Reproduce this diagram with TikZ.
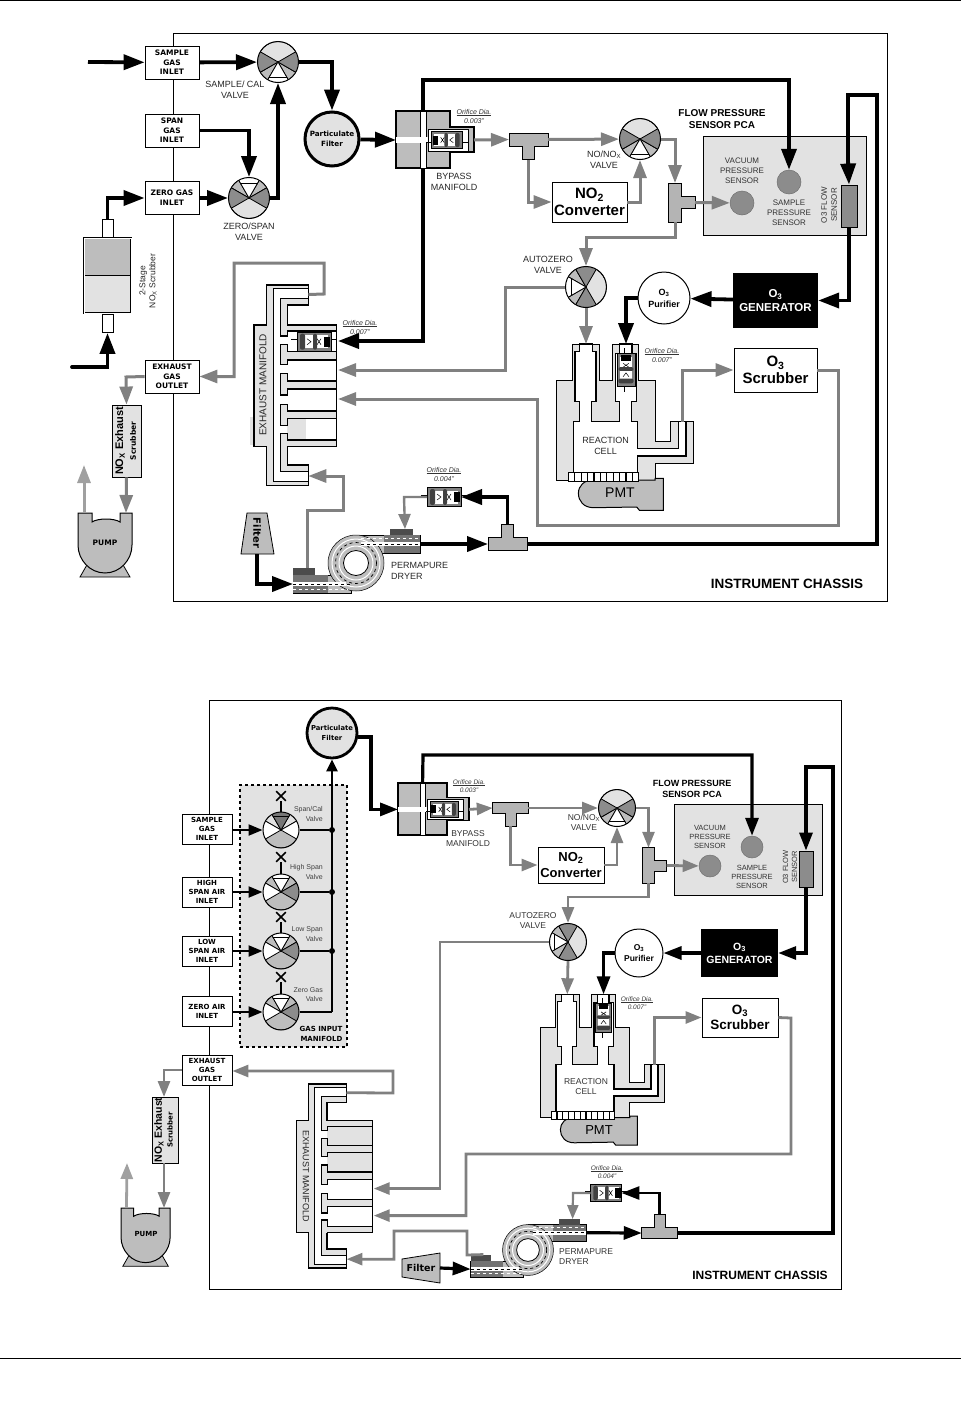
\documentclass[tikz,border=0pt]{standalone}
\usepackage{fontspec}
\setmainfont{Liberation Sans}
\newfontfamily\boxfont{DejaVu Sans}
\usetikzlibrary{arrows.meta,shapes.misc}

\definecolor{vdark}{HTML}{8C8C8C}
\definecolor{vmid}{HTML}{BDBDBD}
\definecolor{vlite}{HTML}{E2E2E2}
\definecolor{gline}{HTML}{808080}

% name, position, radius, rotation, wedge colours (left, right, port), big sector, small sectors
\newcommand{\valve}[9]{
  \begin{scope}[shift={(#2)},rotate=#4,scale=#3/20]
    \clip (0,0) circle (20);
    \filldraw[fill=#8,line width=.8pt] (0,0) circle (20);
    \filldraw[fill=#9,line width=.8pt] (0,0) -- (30:40) -- (60:40) -- cycle;
    \filldraw[fill=#9,line width=.8pt] (0,0) -- (120:40) -- (150:40) -- cycle;
    \filldraw[fill=#5,line width=.8pt] (0,0) -- (150:40) -- (210:40) -- cycle;
    \filldraw[fill=#6,line width=.8pt] (0,0) -- (-30:40) -- (30:40) -- cycle;
    \filldraw[fill=#7,line width=.8pt] (0,0) -- (60:40) -- (120:40) -- cycle;
    \draw[line width=.8pt] (60:17) -- (120:17);
  \end{scope}
  \node[draw,circle,line width=1pt,inner sep=0,minimum size=2*#3] (#1) at (#2) {};
}

% name, position, rotation, scale
\newcommand{\orifice}[4]{
  \begin{scope}[shift={(#2)},rotate=#3,scale=#4]
    \draw[line width=.6pt] (-23,-2) -- (23,-2);
    \filldraw[fill=gray,line width=.8pt] (-17,-9.5) rectangle (17,9.5);
    \fill[white] (-13,-6.5) rectangle (14,6.5);
    \draw[line width=.5pt] (-7,-3) -- (-3,0) -- (-7,3) (3,-3) -- (7,3) (3,3) -- (7,-3);
    \fill[black!75,rounded corners=2pt] (-14,-8) rectangle (-9,8);
    \fill[black!75,rounded corners=2pt] (-1,-8) rectangle (3,8);
    \fill[black] (10,-5) rectangle (16,5);
    \coordinate (#1-w) at (-17,0);
    \coordinate (#1-e) at (17,0);
  \end{scope}
}

% name, position, rotation, scale
\newcommand{\teepc}[4]{
  \begin{scope}[shift={(#2)},rotate=#3,scale=#4]
    \filldraw[fill=vmid!95!black,line width=.9pt] (-19.5,-6.5) -- (19.5,-6.5) -- (19.5,6.5) -- (6,6.5)
      -- (6,20) -- (-6,20) -- (-6,6.5) -- (-19.5,6.5) -- cycle;
    \coordinate (#1-w) at (-19.5,0);
    \coordinate (#1-e) at (19.5,0);
    \coordinate (#1-s) at (0,20);
  \end{scope}
}

% name, position, scale
\newcommand{\bypass}[3]{
  \begin{scope}[shift={(#2)},scale=#3]
    \filldraw[fill=vmid,line width=1.3pt] (0,0) -- (54,0) -- (54,16) -- (78,16) -- (78,41) -- (54,41) -- (54,57) -- (0,57) -- cycle;
    \filldraw[fill=white,line width=.5pt] (24,0) rectangle (30,57);
    \fill[white] (0,26) rectangle (33,32);
    \filldraw[fill=white,line width=.8pt] (32,18) rectangle (72,40);
    \orifice{#1o}{51,29}{180}{.9}
    \coordinate (#1-top) at (27,0);
    \coordinate (#1-bot) at (27,57);
    \coordinate (#1-w) at (0,29);
    \coordinate (#1-e) at (78,29);
  \end{scope}
}

% name, position, scale, fill of upper bays, patch
\newcommand{\manifoldbody}[5]{
  \begin{scope}[shift={(#2)},scale=#3]
    \filldraw[fill=vlite,line width=1.5pt] (12.7,0) -- (54.3,0) -- (54.3,20) -- (33.3,20) -- (33.3,40) -- (82.7,40)
      -- (82.7,161.7) -- (33.3,161.7) -- (33.3,180) -- (54.3,180) -- (54.3,200.7) -- (12.7,200.7)
      -- (12.7,161.7) -- (0,161.7) -- (0,40) -- (12.7,40) -- cycle;
    \filldraw[fill=white,line width=1pt] (19.3,3.3) -- (54.3,3.3) -- (54.3,13.3) -- (26.7,13.3) -- (26.7,46) -- (82.7,46)
      -- (82.7,155) -- (26.7,155) -- (26.7,186.7) -- (54.3,186.7) -- (54.3,196.7) -- (19.3,196.7) -- cycle;
    \fill[#4] (33.3,46) rectangle (82.7,66.7);
    \fill[#4] (33.3,75) rectangle (82.7,96);
    \fill[#5] (33.3,133.3) rectangle (52,155);
    \fill[vlite] (26.7,40) rectangle (33.3,51);
    \fill[vlite] (26.7,148.3) rectangle (33.3,162);
    \draw[line width=1.2pt] (26.7,13.3) -- (26.7,51) -- (33.3,51) -- (33.3,46) -- (82.7,46);
    \foreach \ya/\yb/\yc/\yd in {59.3/79.3/66.7/75, 88.3/110/96/104, 119.3/140.7/126/133.3}
      \filldraw[fill=vlite,line width=1.2pt] (82.7,\yc) -- (33.3,\yc) -- (33.3,\ya) -- (26.7,\ya) -- (26.7,\yb)
        -- (33.3,\yb) -- (33.3,\yd) -- (82.7,\yd);
    \draw[line width=1.2pt] (82.7,155) -- (33.3,155) -- (33.3,148.3) -- (26.7,148.3) -- (26.7,186.7);
    \draw[line width=1.5pt] (82.7,40) -- (82.7,161.7);
    \coordinate (#1-top) at (54.3,9.5);
    \coordinate (#1-bot) at (54.3,191);
    \coordinate (#1-pa) at (84,56);
    \coordinate (#1-pb) at (84,85);
    \coordinate (#1-pc) at (84,114);
    \coordinate (#1-pd) at (84,143.5);
  \end{scope}
}

% name, position, scale
\newcommand{\cellbody}[3]{
  \begin{scope}[shift={(#2)},scale=#3]
    \filldraw[fill=vlite,line width=1pt] (16,0) -- (42.7,0) -- (42.7,36.7) -- (56,36.7) -- (56,0) -- (82,0) -- (82,36.7) -- (98.3,36.7)
      -- (98.3,97.7) -- (114,97.7) -- (114,77.7) -- (136.7,77.7) -- (136.7,119.3) -- (98.3,119.3) -- (98.3,136) -- (0,136) -- (0,36.7) -- (16,36.7) -- cycle;
    \filldraw[fill=white,line width=1.3pt] (16.7,129.3) -- (16.7,77.7) -- (22.7,77.7) -- (22.7,57.7) -- (18.3,57.7) -- (18.3,7.7) -- (22.7,7.7) -- (22.7,0)
      -- (36,0) -- (36,7.7) -- (39.3,7.7) -- (39.3,57.7) -- (34.7,57.7) -- (34.7,77.7) -- (62.7,77.7) -- (62.7,57.7) -- (58.7,57.7) -- (58.7,9.3) -- (62.7,9.3) -- (62.7,0)
      -- (75.3,0) -- (75.3,9.3) -- (80,9.3) -- (80,57.7) -- (75,57.7) -- (75,77.7) -- (80.7,77.7) -- (80.7,104.3) -- (121.7,104.3) -- (121.7,77.7)
      -- (129.3,77.7) -- (129.3,112) -- (80.7,112) -- (80.7,129.3) -- cycle;
    \orifice{#1o}{69.3,26}{90}{.95}
    \filldraw[fill=vmid,line width=1pt] (98.3,134.3) -- (106.7,134.3) -- (106.7,166.3) -- (82.7,166.3) -- (80,163) -- (37,163.7)
      .. controls (27,163.7) and (21.7,157) .. (21.7,149.3) .. controls (21.7,142) and (27,136) .. (37,136) -- (98.3,136) -- cycle;
    \filldraw[fill=white,line width=.8pt] (11.7,128.7) rectangle (81.7,137.7);
    \foreach \xs in {18,24.4,...,76} \draw[line width=1.2pt] (\xs,128.7) -- (\xs,137.7);
    \coordinate (#1-ina) at (29.3,0);
    \coordinate (#1-inb) at (69.3,0);
    \coordinate (#1-out) at (125.5,77.7);
  \end{scope}
}

% name, position, scale
\newcommand{\pumpbody}[3]{
  \begin{scope}[shift={(#2)},scale=#3]
    \filldraw[fill=vmid,line width=.8pt] (2,64) -- (52,64) -- (44,50) -- (10,50) -- cycle;
    \filldraw[fill=vmid,line width=1pt] (0,0) -- (14,0) -- (14,9) .. controls (20,5) and (36,5) .. (42,9) -- (42,0) -- (54,0) -- (54,32)
      .. controls (54,47) and (42,60) .. (27,60) .. controls (12,60) and (0,47) .. (0,32) -- cycle;
    \coordinate (#1-in) at (48,0);
    \coordinate (#1-out) at (6,0);
  \end{scope}
}

% name, position, scale
\newcommand{\dryer}[3]{
  \begin{scope}[shift={(#2)},scale=#3]
    \filldraw[fill=vmid,line width=.5pt] (-63,12) rectangle (-5,30);
    \filldraw[fill=vmid,line width=.5pt] (0,-28) rectangle (64,-10);
    \filldraw[fill=vmid,line width=.5pt] (0,0) circle (28);
    \draw[white,line width=1pt] (0,0) circle (24);
    \draw[white,line width=1pt] (0,0) circle (17);
    \draw[dashed,line width=.7pt] (0,0) circle (20.5);
    \filldraw[fill=white,line width=.8pt] (0,0) circle (12.5);
    \fill[black!55] (-63,12) rectangle (-28,30);
    \fill[black!70] (-63,5) rectangle (-41,12);
    \fill[black!55] (28,-28) rectangle (64,-10);
    \fill[black!70] (34,-34) rectangle (57,-28);
    \fill[white] (-63,19) rectangle (-10,23);
    \fill[white] (5,-21) rectangle (64,-17);
    \draw[white,dashed,line width=.8pt] (-63,26) -- (-8,26);
    \draw[white,dashed,line width=.8pt] (5,-25) -- (64,-25);
    \draw[dashed,line width=.6pt] (-63,21) -- (-5,21);
    \draw[dashed,line width=.6pt] (5,-19) -- (64,-19);
    \coordinate (#1-w) at (-63,21);
    \coordinate (#1-e) at (64,-19);
    \coordinate (#1-lo) at (-49,5);
    \coordinate (#1-hi) at (49,-34);
  \end{scope}
}

\begin{document}
\begin{tikzpicture}[x=1pt,y=-1pt,
    inletbox/.style={draw,fill=white,line width=.9pt,align=center,inner sep=0,minimum width=54,minimum height=33,
      font=\boxfont\bfseries\fontsize{7.5}{9.6}\selectfont},
    binletbox/.style={inletbox,minimum width=50,minimum height=30,font=\boxfont\bfseries\fontsize{7}{9}\selectfont},
    lbl/.style={align=center,inner sep=0,text=black!85,font=\fontsize{9}{10.8}\selectfont},
    slbl/.style={align=center,inner sep=0,text=black!80,font=\fontsize{8}{10}\selectfont},
    tinylbl/.style={align=right,anchor=east,inner sep=0,text=black!75,font=\fontsize{7}{9.5}\selectfont},
    orif/.style={align=center,inner sep=0,text=black!80,font=\itshape\fontsize{7}{9}\selectfont},
    title/.style={align=center,inner sep=0,font=\bfseries\fontsize{10}{12}\selectfont},
    chassis/.style={inner sep=0,font=\bfseries\fontsize{13.5}{15}\selectfont},
    whitebox/.style={draw,fill=white,line width=.9pt,align=center,inner sep=0,font=\bfseries\fontsize{15}{17}\selectfont},
    sensorpad/.style={draw,circle,fill=vdark,draw=vdark!80!black,inner sep=0,line width=.5pt},
    blk/.style={line width=3.8pt,-{Triangle[length=21pt,width=15pt]}},
    blkline/.style={line width=3.8pt},
    gry/.style={line width=3pt,gline,-{Triangle[length=18pt,width=13pt]}},
    bblk/.style={line width=3.2pt,-{Triangle[length=18pt,width=13pt]}},
    sblk/.style={line width=2.2pt,-{Triangle[length=14pt,width=11pt]}},
    bgry/.style={line width=2.8pt,gline,-{Triangle[length=16pt,width=12pt]}},
  ]
  \useasboundingbox (0,0) rectangle (961,1411);
  \draw[line width=1pt] (0,.5) -- (961,.5);
  \draw[line width=.6pt] (0,1358) -- (961,1358);

  \draw[line width=.9pt] (173.5,33.5) rectangle (887,601);
  \draw[line width=.9pt] (209,700) rectangle (841,1289);

  \node (si) [inletbox] at (172,62.5) {SAMPLE\\GAS\\INLET};
  \node (sp) [inletbox] at (172,130.5) {SPAN\\GAS\\INLET};
  \node (zg) [inletbox] at (172,198) {ZERO GAS\\INLET};
  \node (ex) [inletbox] at (172,376.5) {EXHAUST\\GAS\\OUTLET};

  \valve{sv}{278,62}{20.5}{0}{vdark}{vdark}{white}{vlite}{vmid}
  \valve{zs}{249,198}{20.5}{180}{vdark}{vdark}{white}{vlite}{vmid}
  \valve{nv}{640,139}{20.5}{0}{vdark}{vdark}{white}{vlite}{vmid}
  \valve{az}{586,287}{20.5}{-90}{vdark}{vdark}{white}{vlite}{vmid}

  \node (pf) [draw,circle,fill=vlite,line width=3pt,inner sep=0,minimum size=54,align=center,
              font=\boxfont\bfseries\fontsize{7.2}{10}\selectfont] at (332,139) {Particulate\\Filter};

  \bypass{bp}{396,111}{1}
  \teepc{ta}{528.5,139.5}{0}{1}
  \teepc{tb}{675,202.5}{90}{1}
  \teepc{tc}{507.5,544}{180}{1}

  \node (cv) [whitebox,minimum width=75,minimum height=40] at (589.5,202) {NO\textsubscript{2}\\Converter};
  \node (fp) [draw,fill=vlite,line width=.9pt,minimum width=163,minimum height=99,inner sep=0] at (784.5,185.5) {};
  \node (vs) [sensorpad,minimum size=24] at (742,203) {};
  \node (ss) [sensorpad,minimum size=24] at (789,182) {};
  \node (fs) [draw,fill=vdark,line width=.9pt,minimum width=16,minimum height=42,inner sep=0] at (849,206) {};
  \node (gn) [fill=black,text=white,align=center,inner sep=0,minimum width=85,minimum height=55,
              font=\bfseries\fontsize{11.5}{14}\selectfont] at (775.5,300.5) {O\textsubscript{3}\\GENERATOR};
  \node (pu) [draw,circle,fill=white,line width=1pt,inner sep=0,minimum size=52,align=center,
              font=\bfseries\fontsize{9}{12}\selectfont] at (664,298) {O\textsubscript{3}\\Purifier};
  \node (sc) [whitebox,minimum width=83,minimum height=44] at (775.5,370) {O\textsubscript{3}\\Scrubber};

  \cellbody{rc}{556.7,344}{1}
  \fill[vlite] (250,417) rectangle (254,445);
  \manifoldbody{em}{254,285}{1}{white}{vlite}
  \orifice{eo}{314,341.7}{0}{1}

  \orifice{oc}{444,497}{0}{1}
  \dryer{dr}{356,563}{1}
  \pumpbody{pm}{78,513}{1}

  \node (ns) [draw,fill=vlite,line width=.9pt,minimum width=29,minimum height=72,inner sep=0] at (126.5,441) {};
  \node (nsa) [rotate=90,inner sep=0,font=\bfseries\fontsize{11}{13}\selectfont] at (120,441) {NO\textsubscript{X} Exhaust};
  \node (nsb) [rotate=90,inner sep=0,font=\boxfont\bfseries\fontsize{7.5}{9}\selectfont] at (133,441) {Scrubber};
  \node (pt) [inner sep=0,font=\boxfont\bfseries\fontsize{7.5}{9}\selectfont] at (105,543) {PUMP};

  \node (tk) [draw,line width=.9pt,fill=white,minimum width=11,minimum height=18,inner sep=0] at (107.5,228) {};
  \node (tl) [draw,line width=.9pt,fill=white,minimum width=11,minimum height=18,inner sep=0] at (107.5,323.5) {};
  \node (sb) [draw,double,double distance=1pt,line width=.8pt,fill=vlite,minimum width=47,minimum height=75,inner sep=0] at (107.5,275.5) {};
  \fill[vmid] (85,239) rectangle (130,275);
  \draw[line width=.7pt] (85,275) -- (130,275);
  \node (sbl) [rotate=90,align=center,inner sep=0,text=black!85,font=\fontsize{8.5}{10}\selectfont] at (148,281) {2-Stage\\NO\textsubscript{X} Scrubber};

  \filldraw[fill=vmid,line width=.8pt] (247,513) -- (267,513) -- (274,554) -- (241,554) -- cycle;
  \node (ft) [rotate=-90,inner sep=0,font=\boxfont\bfseries\fontsize{10}{12}\selectfont] at (257,533) {Filter};
  \coordinate (fb) at (257,554);

  \coordinate (sin) at (88,62);
  \coordinate (scrin) at (72,367);
  \draw[blk] (sin) -- (si);
  \draw[blk] (si) -- (sv);
  \draw[blk] (sv.east) -| (pf.north);
  \draw[blk] (pf) -- (bp-w);
  \draw[blk] (sp.east) -| (zs.north);
  \draw[blk] (zg) -- (zs);
  \draw[blk] (zs.east) -| (sv.south);
  \draw[blk] (tk.north) |- (zg.west);
  \draw[blk,line cap=round] (scrin) -| (tl.south);
  \draw[blk] (bp-top) -- ++(0,-31) -| (ss.north);
  \draw[blk] (bp-bot) |- (em-pa);
  \draw[blkline] (tc-w) -- (877,544) -- (877,95) -- (848,95) -- (848,165);
  \draw[blk] (848,160) -- (fs.north);
  \draw[blk] (fs.south) |- (gn.east);
  \draw[blk] (gn) -- (pu);
  \draw[blk] (pu.west) -| (rc-inb);
  \draw[blk] (fb) |- (dr-w);
  \draw[blk] (dr-e) -- (tc-e);
  \draw[blk] (tc-s) |- (oc-e);

  \draw[gry] (bp-e) -- (ta-w);
  \draw[gry] (ta-e) -- (nv);
  \draw[gry] (ta-s) |- (cv.west);
  \draw[gry] (cv.east) -| (nv.south);
  \draw[gry] (nv.east) -| (tb-e);
  \draw[gry] (tb-s) -- (vs);
  \draw[gry] (tb-w) |- (586,237) -- (az.north);
  \draw[gry] (az.west) -- (505,287) |- (em-pb);
  \draw[gry] (az.south) -- (rc-ina);
  \draw[gry] (rc-out) |- (sc.west);
  \draw[gry] (sc.east) -- (838,370) -- (838,525) -- (537,525) |- (em-pc);
  \draw[gry] (em-top) -- (324,294) -- (324,263) -- (234,263) |- (ex.east);
  \draw[gry] (ex.west) -- (126,377) -- (ns.north);
  \draw[gry] (ns.south) -- (pm-in);
  \draw[gry,draw=gline!75] (pm-out) -- (84,465);
  \draw[gry] (dr-lo) -- (307,510) -- (343,510) |- (em-bot);
  \draw[gry,line width=2.4pt,-{Triangle[length=15pt,width=12pt]}] (oc-w) -- (404,497) -- (dr-hi);

  \node (l1) [lbl] at (235,90) {SAMPLE/ CAL\\VALVE};
  \node (l2) [lbl] at (249,232) {ZERO/SPAN\\VALVE};
  \node (l3) [lbl] at (454,182) {BYPASS\\MANIFOLD};
  \node (l4) [lbl] at (604,160) {NO/NO\textsubscript{X}\\VALVE};
  \node (l5) [lbl] at (548,265) {AUTOZERO\\VALVE};
  \node (l6) [lbl,anchor=west,align=left] at (391,571) {PERMAPURE\\DRYER};
  \node (l7) [slbl] at (742,171) {VACUUM\\PRESSURE\\SENSOR};
  \node (l8) [slbl] at (789,213) {SAMPLE\\PRESSURE\\SENSOR};
  \node (l9) [slbl,rotate=90] at (829,205) {O3 FLOW\\SENSOR};
  \node (l10) [title] at (722,119) {FLOW PRESSURE\\SENSOR PCA};
  \node (l11) [lbl] at (605.5,446) {REACTION\\CELL};
  \node (l12) [inner sep=0,font=\fontsize{14}{16}\selectfont] at (620,493) {PMT};
  \node (l13) [rotate=90,inner sep=0,text=black!85,font=\fontsize{10}{12}\selectfont] at (263,385) {EXHAUST MANIFOLD};
  \node (l14) [chassis] at (787,584) {INSTRUMENT CHASSIS};
  \node (o1) [orif] at (474,116) {\underline{Orifice Dia.}\\0.003"};
  \node (o2) [orif] at (360,327) {\underline{Orifice Dia.}\\0.007"};
  \node (o3) [orif] at (662,355) {\underline{Orifice Dia.}\\0.007"};
  \node (o4) [orif] at (444,474) {\underline{Orifice Dia.}\\0.004"};

  \node (gm) [draw,dashed,fill=vlite,line width=1.1pt,minimum width=107,minimum height=262,inner sep=0] at (293.5,916) {};

  \node (bsi) [binletbox] at (207,829) {SAMPLE\\GAS\\INLET};
  \node (bhi) [binletbox] at (207,892) {HIGH\\SPAN AIR\\INLET};
  \node (blo) [binletbox] at (207,951) {LOW\\SPAN AIR\\INLET};
  \node (bze) [binletbox] at (207,1011) {ZERO AIR\\INLET};
  \node (bex) [binletbox] at (207,1070) {EXHAUST\\GAS\\OUTLET};

  \valve{va}{281,830}{18}{180}{white}{white}{vdark!85!black}{vmid}{vlite}
  \valve{vb}{281,892}{18}{180}{vdark}{white}{white}{vmid}{vmid}
  \valve{vc}{281,951}{18}{180}{vdark}{white}{white}{vmid}{vmid}
  \valve{vd}{281,1012}{18}{180}{vdark}{white}{white}{vmid}{vmid}
  \node (xa) [draw,cross out,line width=1.6pt,inner sep=0,minimum size=8] at (281,796) {};
  \node (xb) [draw,cross out,line width=1.6pt,inner sep=0,minimum size=8] at (281,857) {};
  \node (xc) [draw,cross out,line width=1.6pt,inner sep=0,minimum size=8] at (281,917) {};
  \node (xd) [draw,cross out,line width=1.6pt,inner sep=0,minimum size=8] at (281,977) {};
  \node (ja) [circle,fill=black,inner sep=0,minimum size=6] at (332,830) {};
  \node (jb) [circle,fill=black,inner sep=0,minimum size=6] at (332,892) {};
  \node (jc) [circle,fill=black,inner sep=0,minimum size=6] at (332,951) {};
  \coordinate (jd) at (332,1012);

  \node (bpf) [draw,circle,fill=vlite,line width=2.8pt,inner sep=0,minimum size=50,align=center,
               font=\boxfont\bfseries\fontsize{6.8}{10}\selectfont] at (332,733) {Particulate\\Filter};

  \bypass{bb}{398,783}{.91}
  \teepc{bta}{510.5,808}{0}{.91}
  \teepc{btb}{648.5,865.5}{90}{.91}
  \teepc{btc}{659.5,1233}{180}{.91}
  \valve{bnv}{617,808}{18.5}{0}{vdark}{vdark}{white}{vlite}{vmid}
  \valve{baz}{568,942}{18.5}{-90}{vdark}{vdark}{white}{vlite}{vmid}

  \node (bcv) [whitebox,minimum width=66,minimum height=36,font=\bfseries\fontsize{13}{15.5}\selectfont] at (571,865) {NO\textsubscript{2}\\Converter};
  \node (bfp) [draw,fill=vlite,line width=.9pt,minimum width=148,minimum height=91,inner sep=0] at (748,849.5) {};
  \node (bvs) [sensorpad,minimum size=22] at (710,866) {};
  \node (bss) [sensorpad,minimum size=22] at (752,847) {};
  \node (bfs) [draw,fill=vdark,line width=.9pt,minimum width=14,minimum height=36,inner sep=0] at (806,869) {};
  \node (bgn) [fill=black,text=white,align=center,inner sep=0,minimum width=77,minimum height=48,
               font=\bfseries\fontsize{10.5}{13}\selectfont] at (739.5,953) {O\textsubscript{3}\\GENERATOR};
  \node (bpu) [draw,circle,fill=white,line width=1pt,inner sep=0,minimum size=48,align=center,
               font=\bfseries\fontsize{8.5}{11}\selectfont] at (639,953) {O\textsubscript{3}\\Purifier};
  \node (bsc) [whitebox,minimum width=76,minimum height=39,font=\bfseries\fontsize{13.5}{15.5}\selectfont] at (740,1017.5) {O\textsubscript{3}\\Scrubber};

  \cellbody{brc}{540.7,994.3}{.907}
  \manifoldbody{bem}{296.7,1084}{.917}{vlite}{white}
  \orifice{boc}{606,1193}{0}{.91}
  \dryer{bdr}{528,1250}{.91}
  \pumpbody{bpm}{121,1208}{.91}

  \node (bns) [draw,fill=vlite,line width=.9pt,minimum width=26,minimum height=66,inner sep=0] at (165,1130) {};
  \node (bnsa) [rotate=90,inner sep=0,font=\bfseries\fontsize{10.5}{12}\selectfont] at (159,1130) {NO\textsubscript{X} Exhaust};
  \node (bnsb) [rotate=90,inner sep=0,font=\boxfont\bfseries\fontsize{7}{9}\selectfont] at (170,1130) {Scrubber};
  \node (bpt) [inner sep=0,font=\boxfont\bfseries\fontsize{7}{9}\selectfont] at (146,1234) {PUMP};

  \filldraw[fill=vmid,line width=.8pt] (402,1259) -- (440,1253) -- (440,1283) -- (402,1277) -- cycle;
  \node (bft) [inner sep=0,font=\boxfont\bfseries\fontsize{9.5}{11}\selectfont] at (421,1268) {Filter};
  \coordinate (bfb) at (440,1268);

  \draw[line width=2.2pt] (va.north) -- (xa);
  \draw[line width=2.2pt] (vb.north) -- (xb);
  \draw[line width=2.2pt] (vc.north) -- (xc);
  \draw[line width=2.2pt] (vd.north) -- (xd);
  \draw[sblk] (bsi.east |- va) -- (va);
  \draw[sblk] (bhi.east |- vb) -- (vb);
  \draw[sblk] (blo.east |- vc) -- (vc);
  \draw[sblk] (bze.east |- vd) -- (vd);
  \draw[line width=1.8pt] (va) -- (ja);
  \draw[line width=2.2pt] (vb) -- (jb);
  \draw[line width=2.2pt] (vc) -- (jc);
  \draw[line width=2.2pt] (vd.east) -- (jd);
  \draw[line width=2.4pt,-{Triangle[length=12pt,width=11pt]}] (jd) -- (bpf.south);

  \draw[bblk] (bpf.east) ++(0,4) -- (371,737) |- (bb-w);
  \draw[bblk] (bb-top) -- (423,755) -| (bss.north);
  \draw[line width=3.4pt] (btc-w) -- (833,1233) -- (833,767) -- (806,767) -- (806,825);
  \draw[bblk] (806,820) -- (bfs.north);
  \draw[bblk] (bfs.south) |- (bgn.east);
  \draw[bblk] (bgn) -- (bpu);
  \draw[bblk] (bpu.west) -| (brc-inb);
  \draw[bblk] (bfb) -- (bdr-w);
  \draw[bblk] (bdr-e) -- (btc-e);
  \draw[bblk,line width=2.8pt] (btc-s) |- (boc-e);

  \draw[bgry] (bb-e) -- (bta-w);
  \draw[bgry] (bta-e) -- (bnv);
  \draw[bgry] (bta-s) |- (bcv.west);
  \draw[bgry] (bcv.east) -| (bnv.south);
  \draw[bgry] (bnv.east) -| (btb-e);
  \draw[bgry] (btb-s) -- (bvs);
  \draw[bgry] (btb-w) |- (568,897) -- (baz.north);
  \draw[bgry] (baz.west) -- (440,942) |- (bem-pc);
  \draw[bgry] (baz.south) -- (brc-ina);
  \draw[bgry] (brc-out) |- (bsc.west);
  \draw[bgry] (bsc.east) -- (791,1018) -- (791,1154) -- (466,1154) |- (bem-pd);
  \draw[bgry] (bem-top) -- (393,1093) -- (393,1071) -- (bex.east |- 0,1071);
  \draw[bgry] (bex.west) -- (164,1070) -- (164,1097);
  \draw[bgry] (164,1163) -- (164,1208);
  \draw[bgry,draw=gline!75] (bpm-out) -- (127,1163);
  \draw[bgry] (bdr-lo) -- (467,1255) -- (467,1231) -- (394,1231) |- (bem-bot);
  \draw[bgry,line width=2.2pt,-{Triangle[length=14pt,width=11pt]}] (boc-w) -- (573,1193) -- (bdr-hi);

  \node (bl1) [tinylbl] at (323,814) {Span/Cal\\Valve};
  \node (bl2) [tinylbl] at (323,872) {High Span\\Valve};
  \node (bl3) [tinylbl] at (323,934) {Low Span\\Valve};
  \node (bl4) [tinylbl] at (323,994.5) {Zero Gas\\Valve};
  \node (bl5) [align=right,inner sep=0,font=\boxfont\bfseries\fontsize{7}{10}\selectfont] at (321,1034) {GAS INPUT\\MANIFOLD};
  \node (bl6) [slbl,font=\fontsize{8.5}{10}\selectfont] at (468,839) {BYPASS\\MANIFOLD};
  \node (bl7) [slbl,font=\fontsize{8.5}{10}\selectfont] at (584,822) {NO/NO\textsubscript{X}\\VALVE};
  \node (bl8) [slbl,font=\fontsize{8.5}{10}\selectfont] at (533,921) {AUTOZERO\\VALVE};
  \node (bl9) [slbl,anchor=west,align=left,font=\fontsize{8.5}{10}\selectfont] at (559,1257) {PERMAPURE\\DRYER};
  \node (bl10) [slbl,font=\fontsize{7.5}{9}\selectfont] at (710,837) {VACUUM\\PRESSURE\\SENSOR};
  \node (bl11) [slbl,font=\fontsize{7.5}{9}\selectfont] at (752,877) {SAMPLE\\PRESSURE\\SENSOR};
  \node (bl12) [slbl,rotate=90,font=\fontsize{7.5}{9}\selectfont] at (790,867) {O3 FLOW\\SENSOR};
  \node (bl13) [title,font=\bfseries\fontsize{9}{11}\selectfont] at (692,789) {FLOW PRESSURE\\SENSOR PCA};
  \node (bl14) [slbl,font=\fontsize{8.5}{10}\selectfont] at (586,1087) {REACTION\\CELL};
  \node (bl15) [inner sep=0,font=\fontsize{13}{15}\selectfont] at (599,1130) {PMT};
  \node (bl16) [rotate=-90,inner sep=0,text=black!85,font=\fontsize{9}{11}\selectfont] at (306,1176) {EXHAUST MANIFOLD};
  \node (bl17) [chassis,font=\bfseries\fontsize{12}{14}\selectfont] at (760,1275) {INSTRUMENT CHASSIS};
  \node (bo1) [orif,font=\itshape\fontsize{6.5}{8.5}\selectfont] at (469,786) {\underline{Orifice Dia.}\\0.003"};
  \node (bo2) [orif,font=\itshape\fontsize{6.5}{8.5}\selectfont] at (637,1003) {\underline{Orifice Dia.}\\0.007"};
  \node (bo3) [orif,font=\itshape\fontsize{6.5}{8.5}\selectfont] at (607,1172) {\underline{Orifice Dia.}\\0.004"};
\end{tikzpicture}
\end{document}
